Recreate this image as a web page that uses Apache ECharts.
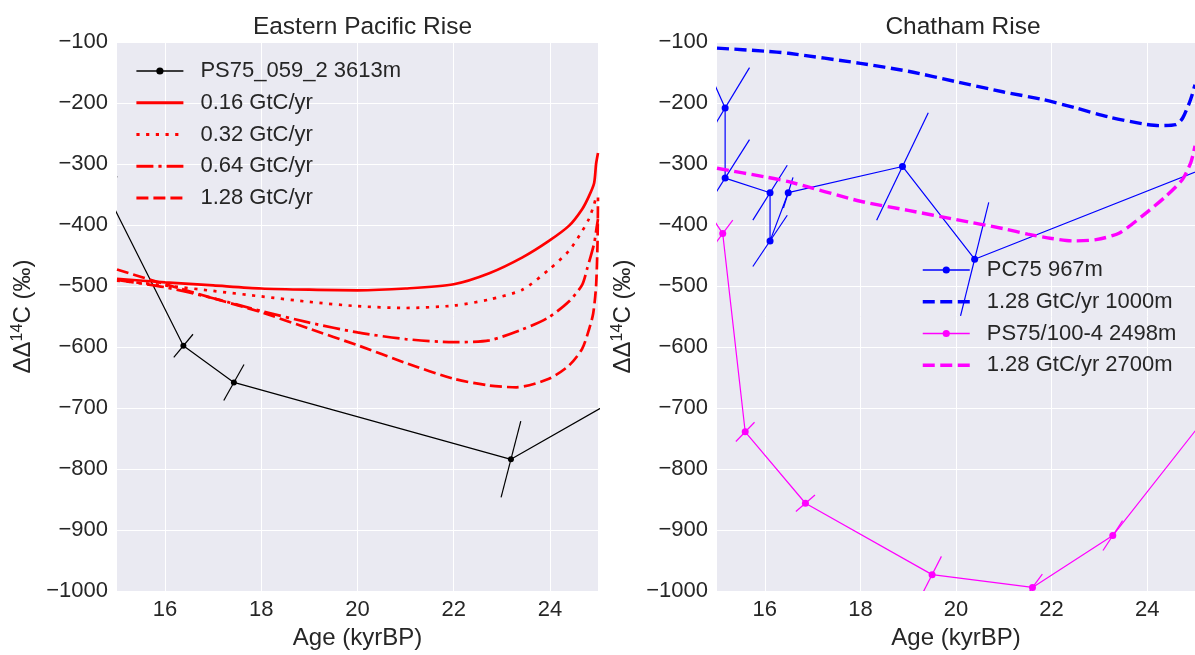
<!DOCTYPE html>
<html><head><meta charset="utf-8">
<script src="https://cdn.jsdelivr.net/npm/echarts@6/dist/echarts.min.js"></script>
<style>html,body{margin:0;padding:0;background:#fff}#c{width:1195px;height:655px}</style>
</head><body><div id="c"></div>
<script>
// ---------- axis ticks ----------
const xTicks = [16, 18, 20, 22, 24];

// ---------- Eastern Pacific Rise ----------
const eprAge    = [14.8, 16.38, 17.43, 23.19, 25.5];
const eprD14    = [-350, -598, -658, -784, -680];
const eprErrAge = [0.2, 0.2, 0.21, 0.205, 0.1];
const eprErrD14 = [30, 19, 29.5, 62.5, 20];

const m016 = [[15,-488],[16,-494],[17,-499],[18,-504],[19,-506],[20,-507],[21,-504],[22,-497],[22.74,-479],[23.43,-453],[23.98,-426],[24.4,-401],[24.67,-374],[24.81,-353],[24.92,-331],[24.96,-300],[25,-282]];
const m032 = [[15,-491],[16,-499],[17,-508],[18,-517],[19,-526],[20,-533],[21,-536],[22,-532],[22.74,-522],[23.43,-506],[23.98,-473],[24.4,-442],[24.67,-410],[24.81,-390],[24.92,-366],[24.97,-350]];
const m064 = [[15,-490],[16,-502],[17,-520],[18,-541],[19,-560],[20,-576],[21,-587],[22,-592],[22.74,-589],[23.43,-571],[23.98,-551],[24.4,-525],[24.67,-498],[24.78,-470],[24.92,-430],[24.97,-405],[25,-390]];
const m128 = [[15,-473],[16,-497],[17,-520],[18,-543],[19,-570],[20,-597],[21,-626],[22,-652],[22.74,-663],[23.3,-666],[23.98,-652],[24.4,-630],[24.67,-603],[24.81,-572],[24.9,-545],[24.96,-500],[24.99,-430],[25,-355]];

// ---------- Chatham Rise ----------
const pcAge    = [14.85, 15.17, 15.17, 16.11, 16.11, 16.49, 18.88, 20.39, 25.2];
const pcD14    = [-152, -208, -323, -347, -426, -347, -304, -456, -307];
const pcErrAge = [0.1, 0.51, 0.51, 0.36, 0.36, 0.1, 0.54, 0.295, 0.1];
const pcErrD14 = [20, 66, 63, 45, 42, 25, 88, 93, 20];

const psAge    = [14.8, 15.12, 15.59, 16.85, 19.50, 21.60, 23.28, 25.4];
const psD14    = [-376, -414, -739, -856, -973, -994, -909, -698];
const psErrAge = [0.05, 0.21, 0.195, 0.2, 0.195, 0.206, 0.205, 0.1];
const psErrD14 = [10, 22, 15.8, 13.6, 29.9, 21.8, 24.5, 20];

const m128_1000 = [[15,-110],[16,-115],[16.5,-118.5],[18,-135],[19,-148],[20,-165],[21,-182],[21.8,-194],[22.5,-208],[23.2,-223],[23.9,-234],[24.25,-237],[24.6,-235.5],[24.74,-225],[24.88,-200],[24.95,-184],[25,-170]];
const m128_2700 = [[15,-307],[16,-321],[16.5,-329],[18,-361],[19,-376],[20,-391],[21,-406],[21.5,-415],[22,-422],[22.45,-426],[22.93,-424],[23.42,-413],[23.9,-385],[24.39,-353],[24.74,-325],[24.91,-298],[24.97,-281],[25,-270]];

// ---------- helpers ----------
const FONT = 'Liberation Sans, Arial, sans-serif';
const TXT = '#262626';
const zip = (a, b) => a.map((v, i) => [v, b[i]]);
const zip4 = (a, b, c, d) => a.map((v, i) => [v, b[i], c[i], d[i]]);
const minus = v => (v < 0 ? '\u2212' : '') + Math.abs(v);

function errRender(color, lw) {
  return function (params, api) {
    const x = api.value(0), y = api.value(1), dx = api.value(2), dy = api.value(3);
    const p1 = api.coord([x - dx, y - dy]);
    const p2 = api.coord([x + dx, y + dy]);
    const cs = params.coordSys;
    return {
      type: 'group',
      clipPath: { type: 'rect', shape: { x: cs.x, y: cs.y, width: cs.width, height: cs.height } },
      children: [{
        type: 'line',
        shape: { x1: p1[0], y1: p1[1], x2: p2[0], y2: p2[1] },
        style: { stroke: color, lineWidth: lw }
      }]
    };
  };
}

function xAxis(idx) {
  return {
    gridIndex: idx, type: 'value', min: 15, max: 25,
    name: 'Age (kyrBP)', nameLocation: 'middle', nameGap: 33,
    nameTextStyle: { fontSize: 24, color: TXT, fontFamily: FONT },
    axisLine: { show: false },
    axisTick: { show: false, customValues: xTicks },
    axisLabel: { customValues: xTicks, fontSize: 22, color: TXT, fontFamily: FONT, margin: 8 },
    splitLine: { show: true, lineStyle: { color: '#ffffff', width: 1 } }
  };
}
function yAxis(idx) {
  return {
    gridIndex: idx, type: 'value', min: -1000, max: -100, interval: 100,
    name: 'ΔΔ{sup|14}C (‰)', nameLocation: 'middle', nameGap: 80,
    nameTextStyle: { fontSize: 24, color: TXT, fontFamily: FONT,
      rich: { sup: { fontSize: 16, color: TXT, fontFamily: FONT, padding: [0, 0, 11, 0] } } },
    axisLine: { show: false }, axisTick: { show: false },
    axisLabel: { fontSize: 22, color: TXT, fontFamily: FONT, margin: 9, formatter: minus },
    splitLine: { show: true, lineStyle: { color: '#ffffff', width: 1 } }
  };
}
function model(name, data, color, width, dash, xi) {
  return {
    name, type: 'line', xAxisIndex: xi, yAxisIndex: xi, data,
    symbol: 'none', smooth: 0.25, clip: true,
    lineStyle: { color, width, type: dash }, itemStyle: { color }
  };
}
const noSym = (name, w) => ({ name, itemStyle: { opacity: 0 }, lineStyle: { width: w } });
const withSym = name => ({ name, lineStyle: { width: 1.3 } });
const legendText = { fontSize: 22, color: TXT, fontFamily: FONT, padding: [0, 0, 0, 12] };

const option = {
  animation: false,
  backgroundColor: '#ffffff',
  textStyle: { fontFamily: FONT },
  title: [
    { text: 'Eastern Pacific Rise', left: 357.5, top: 10, textAlign: 'center',
      textStyle: { fontSize: 24.5, fontWeight: 'normal', color: TXT, fontFamily: FONT } },
    { text: 'Chatham Rise', left: 958, top: 10, textAlign: 'center',
      textStyle: { fontSize: 24.5, fontWeight: 'normal', color: TXT, fontFamily: FONT } }
  ],
  grid: [
    { left: 117, top: 42, width: 481, height: 552, show: true, backgroundColor: '#EAEAF2', borderWidth: 0 },
    { left: 717, top: 42, width: 482, height: 552, show: true, backgroundColor: '#EAEAF2', borderWidth: 0 }
  ],
  xAxis: [xAxis(0), xAxis(1)],
  yAxis: [yAxis(0), yAxis(1)],
  legend: [
    { orient: 'vertical', left: 130, top: 55, itemWidth: 47, itemHeight: 9, itemGap: 9.75,
      selectedMode: false, textStyle: legendText,
      data: [withSym('PS75_059_2 3613m'), noSym('0.16 GtC/yr', 2.8), noSym('0.32 GtC/yr', 2.8),
             noSym('0.64 GtC/yr', 2.8), noSym('1.28 GtC/yr', 2.8)] },
    { orient: 'vertical', left: 916, top: 254, itemWidth: 47, itemHeight: 9, itemGap: 9.75,
      selectedMode: false, textStyle: legendText,
      data: [withSym('PC75 967m'), noSym('1.28 GtC/yr 1000m', 3.5), withSym('PS75/100-4 2498m'),
             noSym('1.28 GtC/yr 2700m', 3.5)] }
  ],
  series: [
    { name: 'PS75_059_2 3613m', type: 'line', xAxisIndex: 0, yAxisIndex: 0,
      data: zip(eprAge, eprD14), symbol: 'circle', symbolSize: 6, showSymbol: true, clip: true,
      lineStyle: { color: '#000000', width: 1.2 }, itemStyle: { color: '#000000' } },
    { name: 'epr_err', type: 'custom', xAxisIndex: 0, yAxisIndex: 0,
      data: zip4(eprAge, eprD14, eprErrAge, eprErrD14), encode: { x: 0, y: 1 },
      renderItem: errRender('#000000', 1.2) },
    model('0.16 GtC/yr', m016, '#ff0000', 2.7, 'solid', 0),
    model('0.32 GtC/yr', m032, '#ff0000', 2.7, [3.2, 6.5], 0),
    model('0.64 GtC/yr', m064, '#ff0000', 2.7, [17, 5, 3.2, 5], 0),
    model('1.28 GtC/yr', m128, '#ff0000', 2.7, [12, 5], 0),

    { name: 'PC75 967m', type: 'line', xAxisIndex: 1, yAxisIndex: 1,
      data: zip(pcAge, pcD14), symbol: 'circle', symbolSize: 7, showSymbol: true, clip: true,
      lineStyle: { color: '#0000ff', width: 1.2 }, itemStyle: { color: '#0000ff' } },
    { name: 'pc_err', type: 'custom', xAxisIndex: 1, yAxisIndex: 1,
      data: zip4(pcAge, pcD14, pcErrAge, pcErrD14), encode: { x: 0, y: 1 },
      renderItem: errRender('#0000ff', 1.2) },
    model('1.28 GtC/yr 1000m', m128_1000, '#0000ff', 3.4, [12, 5.5], 1),
    { name: 'PS75/100-4 2498m', type: 'line', xAxisIndex: 1, yAxisIndex: 1,
      data: zip(psAge, psD14), symbol: 'circle', symbolSize: 7, showSymbol: true, clip: true,
      lineStyle: { color: '#ff00ff', width: 1.2 }, itemStyle: { color: '#ff00ff' } },
    { name: 'ps_err', type: 'custom', xAxisIndex: 1, yAxisIndex: 1,
      data: zip4(psAge, psD14, psErrAge, psErrD14), encode: { x: 0, y: 1 },
      renderItem: errRender('#ff00ff', 1.2) },
    model('1.28 GtC/yr 2700m', m128_2700, '#ff00ff', 3.4, [12, 5.5], 1)
  ]
};

const chart = echarts.init(document.getElementById('c'), null, { renderer: 'canvas' });
chart.setOption(option);
</script></body></html>
